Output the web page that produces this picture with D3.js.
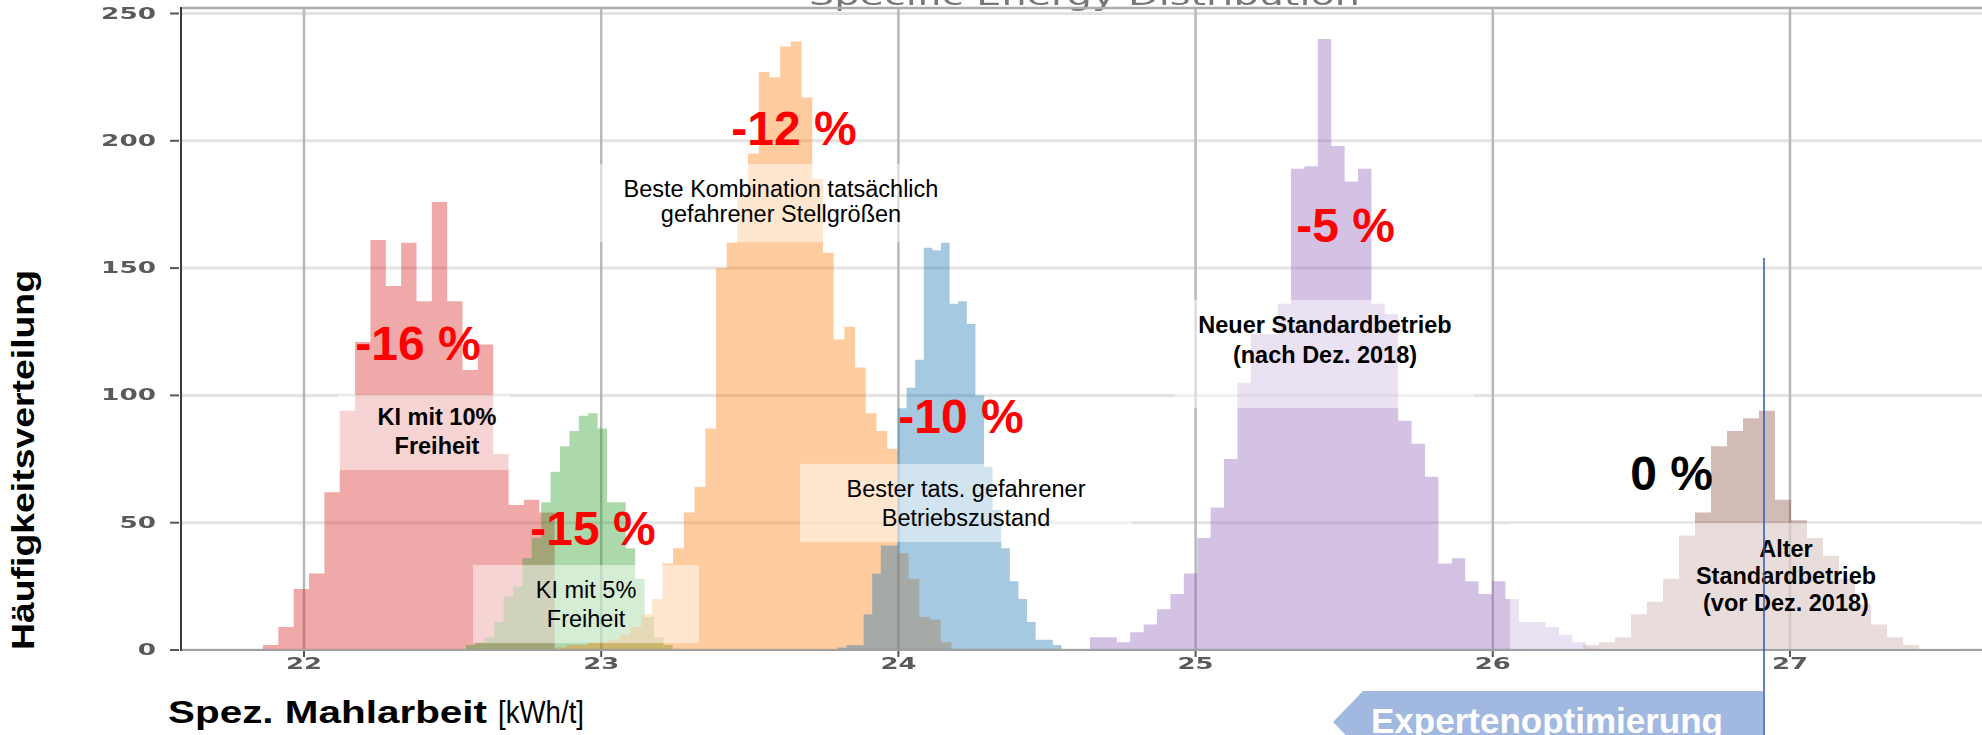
<!DOCTYPE html>
<html>
<head>
<meta charset="utf-8">
<script src="https://cdn.jsdelivr.net/npm/d3@7"></script>
<style>
html, body { margin: 0; padding: 0; background: #fff; }
svg { display: block; }
text { font-family: "Liberation Sans", Arial, sans-serif; }
</style>
</head>
<body>
<svg id="chart" width="1982" height="735"></svg>
<script>
'use strict';

// axis ticks
var xTicks = [22, 23, 24, 25, 26, 27];
var yTicks = [0, 50, 100, 150, 200, 250];

// histograms: left edge of first bin, bin width (kWh/t), counts per bin
var kiTenStart = 21.862, kiTenWidth = 0.05165;
var kiTenCounts = [2, 9, 24, 30, 62, 94, 121, 161, 143, 160, 137, 176, 137, 110, 120, 77, 57, 59, 54];

var kiFiveStart = 22.545, kiFiveWidth = 0.03163;
var kiFiveCounts = [2, 3, 5, 11, 21, 25, 36, 44, 58, 70, 80, 86, 92, 93, 87, 58, 58, 40, 28, 13, 5, 2];

var besteStart = 22.8462, besteWidth = 0.036;
var besteCounts = [1, 2, 2, 3, 3, 4, 6, 9, 14, 20, 34, 40, 54, 64, 87, 150, 160, 178, 195, 227, 225, 237, 239, 217,
  185, 156, 122, 127, 111, 93, 86, 79, 38, 28, 13, 12, 3];

var besterStart = 23.7961, besterWidth = 0.02894;
var besterCounts = [1, 2, 2, 14, 30, 41, 41, 95, 103, 114, 158, 157, 160, 136, 137, 128, 100, 72, 55, 40, 27, 20, 11, 4, 4, 2];

var neuerStart = 24.6447, neuerWidth = 0.04509;
var neuerCounts = [5, 5, 3, 7, 10, 16, 22, 30, 44, 56, 75, 105, 124, 124, 136, 189, 190, 240, 198, 184, 189, 136, 132,
  90, 81, 68, 34, 36, 27, 22, 27, 20, 11, 11, 9, 6, 3, 1];

var alterStart = 26.3035, alterWidth = 0.05384;
var alterCounts = [2, 3, 5, 14, 19, 28, 45, 54, 80, 86, 91, 94, 59, 51, 44, 37, 28, 18, 10, 5, 2];

// savings labels
var pctTexts = ['-16 %', '-15 %', '-12 %', '-10 %', '-5 %', '0 %'];
var pctX = [22.3836, 22.9724, 23.6487, 24.2106, 25.5044, 26.6013];
var pctY = [113.9, 41.2, 198.3, 85.2, 160.2, 62.8];

// description labels
var descLines = [
  ['KI mit 10%', 'Freiheit'],
  ['KI mit 5%', 'Freiheit'],
  ['Beste Kombination tatsächlich', 'gefahrener Stellgrößen'],
  ['Bester tats. gefahrener', 'Betriebszustand'],
  ['Neuer Standardbetrieb', '(nach Dez. 2018)'],
  ['Alter', 'Standardbetrieb', '(vor Dez. 2018)']
];
var descX = [22.4475, 22.9489, 23.605, 24.2275, 25.4354, 26.9865];
var descY = [[88.4, 77.0], [20.4, 9.0], [177.9, 168.1], [60.1, 48.7], [124.5, 112.7], [36.5, 25.9, 15.3]];
var descBold = [true, false, false, false, true, true];
// white boxes behind the labels: [x0, x1, yBottom, yTop]
var descBox = [
  [22.1144, 22.6931, 70.7, 100.2],
  [22.5686, 23.3291, 2.7, 33.4],
  [22.979, 24.224, 160.2, 190.9],
  [23.669, 24.786, 42.4, 73.1],
  [24.931, 25.937, 95, 137.5],
  [26.058, 27.572, 0, 49.9]
];

var svg = d3.select('#chart');
var defs = svg.append('defs');
defs.append('filter').attr('id', 'soft')
  .append('feGaussianBlur').attr('stdDeviation', 0.6);
defs.append('clipPath').attr('id', 'plotClip')
  .append('rect').attr('x', 181).attr('y', 8).attr('width', 1801).attr('height', 642);

svg.append('rect').attr('width', 1982).attr('height', 735).attr('fill', '#fff');

var x = d3.scaleLinear().domain([22, 27]).range([304, 1790]);
var y = d3.scaleLinear().domain([0, 250]).range([650, 13.5]);

// faded title, mostly cut off at the top as in the slide
svg.append('text')
  .attr('x', 809).attr('y', 5)
  .attr('textLength', 551).attr('lengthAdjust', 'spacingAndGlyphs')
  .style('font-family', '"DejaVu Sans"').style('font-size', '26px')
  .attr('fill', '#777').attr('filter', 'url(#soft)')
  .text('Specific Energy Distribution');

var plot = svg.append('g').attr('clip-path', 'url(#plotClip)');

// grid
plot.selectAll('.hgrid').data(yTicks).enter().append('line')
  .attr('class', 'hgrid')
  .attr('x1', 181).attr('x2', 1982)
  .attr('y1', function(d) { return y(d); }).attr('y2', function(d) { return y(d); })
  .attr('stroke', '#e3e3e3').attr('stroke-width', 3);
plot.selectAll('.vgrid').data(xTicks).enter().append('line')
  .attr('class', 'vgrid')
  .attr('x1', function(d) { return x(d); }).attr('x2', function(d) { return x(d); })
  .attr('y1', 8).attr('y2', 650)
  .attr('stroke', '#b8b8b8').attr('stroke-width', 2.5);

// histograms
var series = [
  { start: kiTenStart, width: kiTenWidth, counts: kiTenCounts, color: '#d62728' },
  { start: kiFiveStart, width: kiFiveWidth, counts: kiFiveCounts, color: '#2ca02c' },
  { start: besteStart, width: besteWidth, counts: besteCounts, color: '#ff7f0e' },
  { start: besterStart, width: besterWidth, counts: besterCounts, color: '#1f77b4' },
  { start: neuerStart, width: neuerWidth, counts: neuerCounts, color: '#9467bd' },
  { start: alterStart, width: alterWidth, counts: alterCounts, color: '#8c564b' }
];

function binPoints(s) {
  var pts = s.counts.map(function(c, i) { return { v: s.start + i * s.width, c: c }; });
  pts.push({ v: s.start + s.counts.length * s.width, c: s.counts[s.counts.length - 1] });
  return pts;
}

var area = d3.area()
  .curve(d3.curveStepAfter)
  .x(function(d) { return x(d.v); })
  .y0(y(0))
  .y1(function(d) { return y(d.c); });

plot.selectAll('.hist').data(series).enter().append('path')
  .attr('class', 'hist')
  .attr('d', function(d) { return area(binPoints(d)); })
  .attr('fill', function(d) { return d.color; })
  .attr('fill-opacity', 0.4);

// label boxes
plot.selectAll('.lbox').data(descBox).enter().append('rect')
  .attr('class', 'lbox')
  .attr('x', function(d) { return x(d[0]); })
  .attr('width', function(d) { return x(d[1]) - x(d[0]); })
  .attr('y', function(d) { return y(d[3]); })
  .attr('height', function(d) { return y(d[2]) - y(d[3]); })
  .attr('fill', '#fff').attr('fill-opacity', 0.5);

// spines
svg.append('line').attr('x1', 181).attr('x2', 1982).attr('y1', 8).attr('y2', 8)
  .attr('stroke', '#adadad').attr('stroke-width', 2.5);
svg.append('line').attr('x1', 181).attr('x2', 1982).attr('y1', 650).attr('y2', 650)
  .attr('stroke', '#a0a0a0').attr('stroke-width', 2);
svg.append('line').attr('x1', 181).attr('x2', 181).attr('y1', 7).attr('y2', 651)
  .attr('stroke', '#3a3a3a').attr('stroke-width', 2);

// ticks
svg.selectAll('.ytick').data(yTicks).enter().append('line')
  .attr('x1', 170).attr('x2', 179)
  .attr('y1', function(d) { return y(d); }).attr('y2', function(d) { return y(d); })
  .attr('stroke', '#555').attr('stroke-width', 2);
svg.selectAll('.xtick').data(xTicks).enter().append('line')
  .attr('x1', function(d) { return x(d); }).attr('x2', function(d) { return x(d); })
  .attr('y1', 651).attr('y2', 657)
  .attr('stroke', '#555').attr('stroke-width', 2);

svg.selectAll('.ylab').data(yTicks).enter().append('text')
  .attr('x', 156).attr('y', function(d) { return y(d) + 5; })
  .attr('text-anchor', 'end')
  .attr('textLength', function(d) { return String(d).length * 18.3; })
  .attr('lengthAdjust', 'spacingAndGlyphs')
  .style('font-family', '"DejaVu Sans"').style('font-size', '15px').style('font-weight', 'bold')
  .attr('fill', '#5a5a5a').attr('filter', 'url(#soft)')
  .text(function(d) { return d; });
svg.selectAll('.xlab').data(xTicks).enter().append('text')
  .attr('x', function(d) { return x(d) - 18; }).attr('y', 669)
  .attr('textLength', 36).attr('lengthAdjust', 'spacingAndGlyphs')
  .style('font-family', '"DejaVu Sans"').style('font-size', '15px').style('font-weight', 'bold')
  .attr('fill', '#5a5a5a').attr('filter', 'url(#soft)')
  .text(function(d) { return d; });

// axis titles
svg.append('text')
  .attr('transform', 'translate(34,460) rotate(-90)')
  .attr('text-anchor', 'middle')
  .attr('textLength', 380).attr('lengthAdjust', 'spacingAndGlyphs')
  .style('font-size', '31px').style('font-weight', 'bold')
  .text('Häufigkeitsverteilung');
svg.append('text').attr('x', 168).attr('y', 723)
  .attr('textLength', 319).attr('lengthAdjust', 'spacingAndGlyphs')
  .style('font-size', '31px').style('font-weight', 'bold')
  .text('Spez. Mahlarbeit');
svg.append('text').attr('x', 498).attr('y', 723)
  .attr('textLength', 86).attr('lengthAdjust', 'spacingAndGlyphs')
  .style('font-size', '31px')
  .text('[kWh/t]');

// description labels
descLines.forEach(function(lines, i) {
  svg.selectAll(null).data(lines).enter().append('text')
    .attr('x', x(descX[i]))
    .attr('y', function(d, j) { return y(descY[i][j]); })
    .attr('text-anchor', 'middle')
    .style('font-size', '23.5px')
    .style('font-weight', descBold[i] ? 'bold' : 'normal')
    .attr('fill', '#000')
    .text(function(d) { return d; });
});

// savings labels
svg.selectAll('.pct').data(pctTexts).enter().append('text')
  .attr('x', function(d, i) { return x(pctX[i]); })
  .attr('y', function(d, i) { return y(pctY[i]); })
  .attr('text-anchor', 'middle')
  .style('font-size', '48px').style('font-weight', 'bold')
  .attr('fill', function(d) { return d === '0 %' ? '#000' : '#ff0000'; })
  .text(function(d) { return d; });

// expert optimisation arrow
svg.append('polygon')
  .attr('points', '1333,722 1363,691 1763,691 1763,753 1363,753')
  .attr('fill', '#a1b8e1');
svg.append('text').attr('x', 1371).attr('y', 733)
  .attr('textLength', 352).attr('lengthAdjust', 'spacingAndGlyphs')
  .style('font-size', '35px').style('font-weight', 'bold')
  .attr('fill', '#fff')
  .text('Expertenoptimierung');
svg.append('line').attr('x1', 1764).attr('x2', 1764).attr('y1', 258).attr('y2', 735)
  .attr('stroke', '#2f55b0').attr('stroke-width', 1.5);
</script>
</body>
</html>
